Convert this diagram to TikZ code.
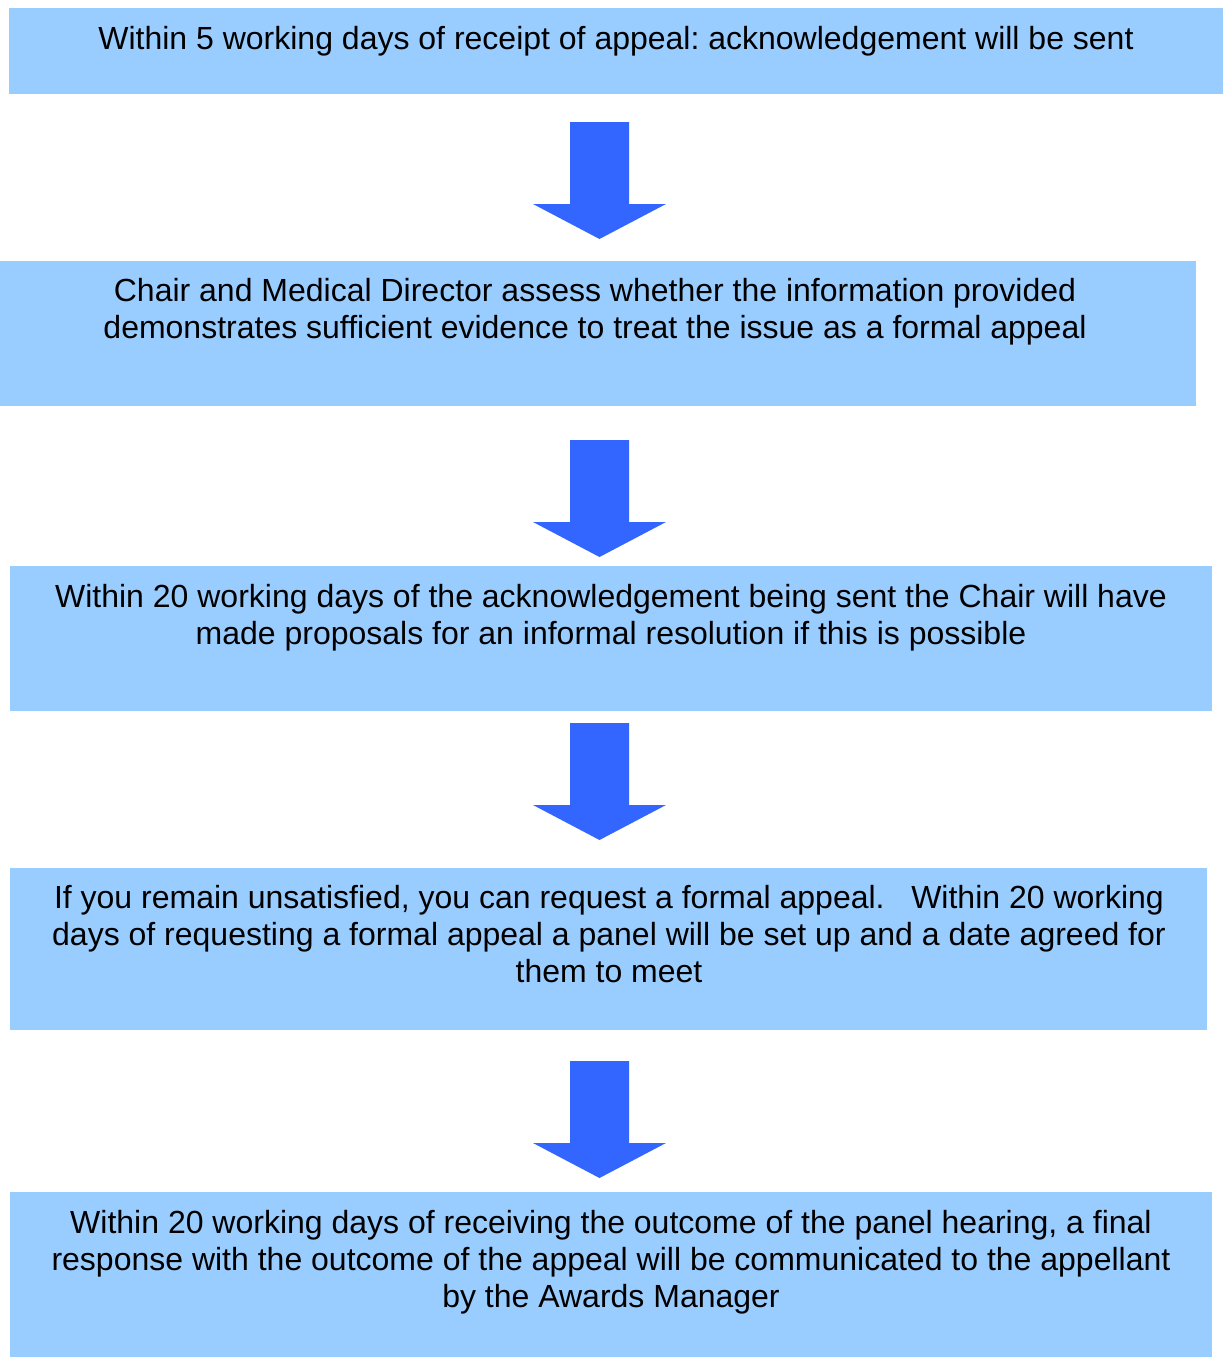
\documentclass[tikz,border=0pt]{standalone}
\usepackage{fontspec}
\setmainfont{Liberation Sans}
\frenchspacing
\definecolor{boxblue}{HTML}{99CCFF}
\definecolor{arrowblue}{HTML}{3366FF}
\begin{document}
\begin{tikzpicture}[x=1pt,y=-1pt,
  flowbox/.style={fill=boxblue,draw=none,inner sep=0pt,anchor=north west},
  flowtext/.style={anchor=base,align=center,inner sep=0pt,
    font=\fontsize{32}{37}\selectfont\frenchspacing},
  blockarrow/.pic={\fill[arrowblue] (-29.5,0) -- (29.5,0) -- (29.5,82) -- (66.5,82)
     -- (0,117) -- (-66.5,82) -- (-29.5,82) -- cycle;}]
\useasboundingbox (0,0) rectangle (1224,1361);
% boxes
\node[flowbox,minimum width=1214pt,minimum height=86pt] (b1) at (9,8) {};
\node[flowbox,minimum width=1196pt,minimum height=145pt] (b2) at (0,261) {};
\node[flowbox,minimum width=1202pt,minimum height=145pt] (b3) at (10,566) {};
\node[flowbox,minimum width=1197pt,minimum height=162pt] (b4) at (10,868) {};
\node[flowbox,minimum width=1202pt,minimum height=165pt] (b5) at (10,1192) {};
% texts (anchor=base is the baseline of the last line)
\node[flowtext] (t1) at (616,49) {Within 5 working days of receipt of appeal: acknowledgement will be sent};
\node[flowtext] (t2) at (595,338) {Chair and Medical Director assess whether the information provided\\demonstrates sufficient evidence to treat the issue as a formal appeal};
\node[flowtext] (t3) at (611,644) {Within 20 working days of the acknowledgement being sent the Chair will have\\made proposals for an informal resolution if this is possible};
\node[flowtext] (t4) at (609,982) {If you remain unsatisfied, you can request a formal appeal.\ \ \ Within 20 working\\days of requesting a formal appeal a panel will be set up and a date agreed for\\them to meet};
\node[flowtext] (t5) at (611,1307) {Within 20 working days of receiving the outcome of the panel hearing, a final\\response with the outcome of the appeal will be communicated to the appellant\\by the Awards Manager};
% arrows
\coordinate (a1) at (599.5,122);
\coordinate (a2) at (599.5,440);
\coordinate (a3) at (599.5,723);
\coordinate (a4) at (599.5,1061);
\pic at (a1) {blockarrow};
\pic at (a2) {blockarrow};
\pic at (a3) {blockarrow};
\pic at (a4) {blockarrow};
\end{tikzpicture}
\end{document}
